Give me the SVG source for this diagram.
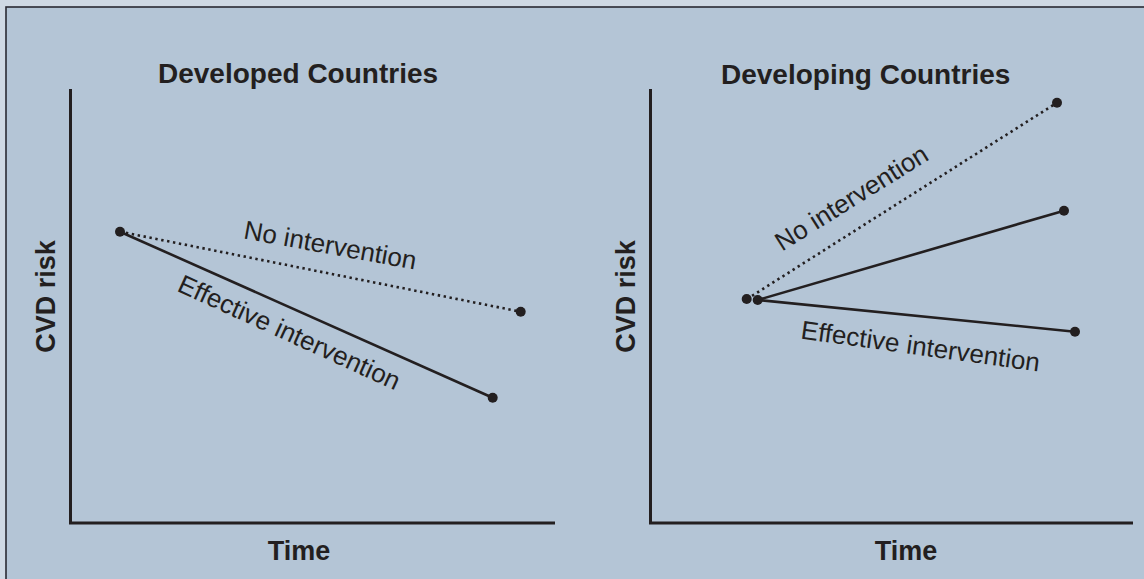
<svg xmlns="http://www.w3.org/2000/svg" width="1144" height="579" viewBox="0 0 1144 579">
<defs>
<style>
.title{font-family:"Liberation Sans",Arial,sans-serif;font-weight:bold;font-size:28px;fill:#231f20}
.axlab{font-family:"Liberation Sans",Arial,sans-serif;font-weight:bold;font-size:27px;fill:#231f20}
.lab{font-family:"Liberation Sans",Arial,sans-serif;font-size:26px;fill:#231f20}
.axis{stroke:#231f20;stroke-width:3;fill:none}
.solid{stroke:#231f20;stroke-width:2.6;fill:none}
.dotted{stroke:#231f20;stroke-width:2.6;fill:none;stroke-dasharray:2.4 3.6}
.dot{fill:#231f20}
</style>
</defs>
<rect x="0" y="0" width="1144" height="579" fill="#cfd9e4"/>
<rect x="6" y="7" width="1160" height="600" fill="#b4c5d6" stroke="#2a2a33" stroke-width="1.6"/>

<g id="panel-developed">
<text class="title" x="158" y="83">Developed Countries</text>
<path class="axis" d="M70.5,89 V523 H555"/>
<text class="axlab" transform="translate(55,296.5) rotate(-90)" text-anchor="middle">CVD risk</text>
<text class="axlab" x="299" y="560" text-anchor="middle">Time</text>
</g>

<g id="panel-developing">
<text class="title" x="721" y="84">Developing Countries</text>
<path class="axis" d="M650.5,89 V523 H1133"/>
<text class="axlab" transform="translate(635,296.5) rotate(-90)" text-anchor="middle">CVD risk</text>
<text class="axlab" x="906" y="560" text-anchor="middle">Time</text>
</g>

<g id="connectors">
<line class="dotted" x1="120" y1="231.7" x2="520.7" y2="311.7"/>
<line class="solid" x1="120" y1="231.7" x2="492.7" y2="397.7"/>
<line class="dotted" x1="747" y1="299" x2="1057" y2="102.7"/>
<line class="solid" x1="757.7" y1="300" x2="1064" y2="210.7"/>
<line class="solid" x1="757.7" y1="300" x2="1075" y2="331.7"/>
</g>

<g id="points">
<circle class="dot" cx="120" cy="231.7" r="5"/>
<circle class="dot" cx="520.7" cy="311.7" r="5"/>
<circle class="dot" cx="492.7" cy="397.7" r="5"/>
<circle class="dot" cx="746.7" cy="299" r="5"/>
<circle class="dot" cx="757.7" cy="300" r="5"/>
<circle class="dot" cx="1057" cy="102.7" r="5"/>
<circle class="dot" cx="1064" cy="210.7" r="5"/>
<circle class="dot" cx="1075" cy="331.7" r="5"/>
</g>

<g id="labels">
<text class="lab" transform="translate(242.7,238.3) rotate(10.3)">No intervention</text>
<text class="lab" transform="translate(176,290.5) rotate(24.5)">Effective intervention</text>
<text class="lab" transform="translate(782,251.7) rotate(-32)">No intervention</text>
<text class="lab" transform="translate(800,338.5) rotate(7.9)">Effective intervention</text>
</g>
</svg>
